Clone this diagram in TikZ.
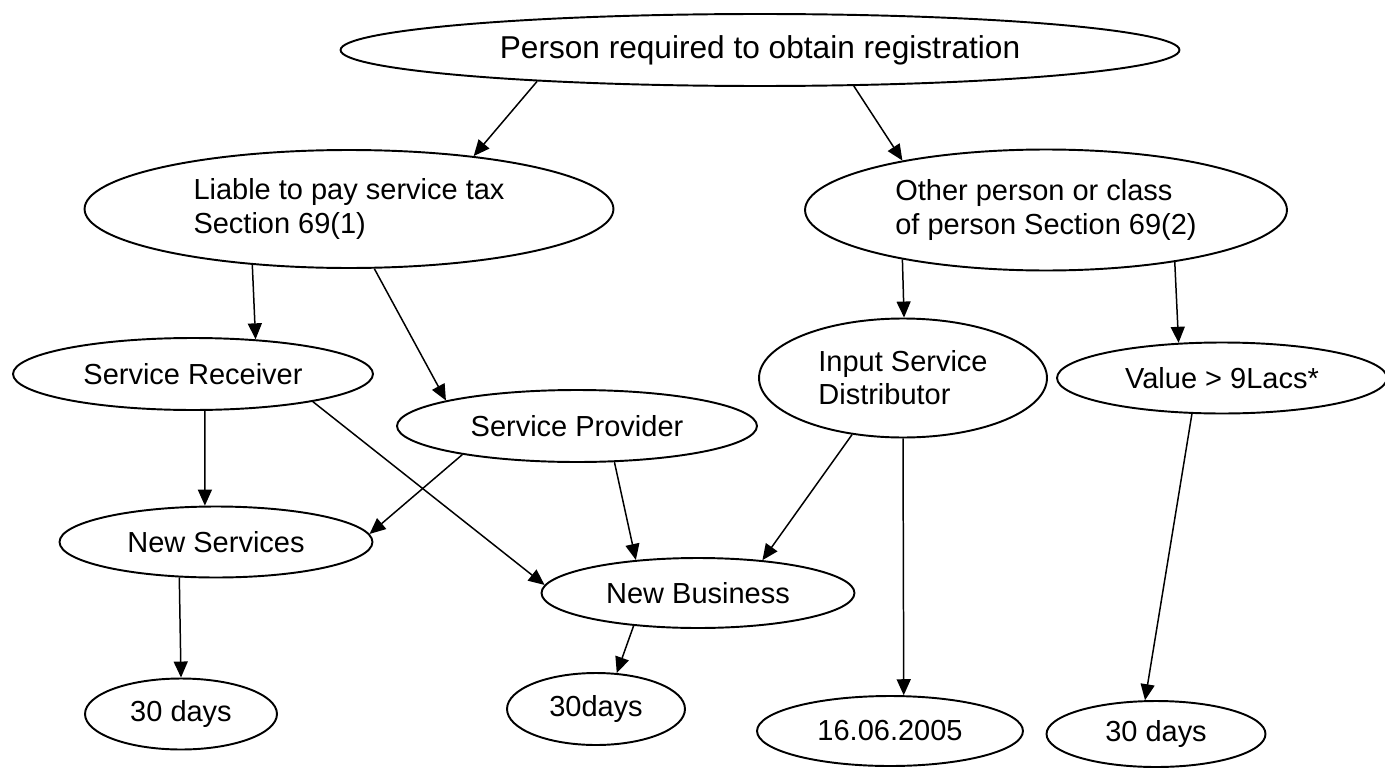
\documentclass[tikz,border=0pt]{standalone}
\usepackage{fontspec}
\setmainfont{Liberation Sans}
\usetikzlibrary{shapes.geometric, arrows.meta}

\tikzset{
  blob/.style={ellipse, draw, line width=1.1pt, inner sep=0pt, align=left,
    font=\fontsize{16.5}{18.8}\selectfont},
  link/.style={-{Triangle[length=3.2mm, width=2.8mm]}, line width=0.85pt}
}

\begin{document}
\begin{tikzpicture}[x=0.02cm, y=-0.02cm]
\useasboundingbox (0,0) rectangle (1385,767);

\node[blob, minimum width=16.78cm, minimum height=1.44cm, font=\fontsize{18}{21}\selectfont] (top) at (760,50) {Person required to obtain registration};

\node[blob, minimum width=10.58cm, minimum height=2.36cm] (liable) at (349,209) {Liable to pay service tax\\Section 69(1)};
\node[blob, minimum width=9.64cm, minimum height=2.42cm] (other) at (1046,210) {Other person or class\\of person Section 69(2)};

\node[blob, minimum width=7.2cm, minimum height=1.44cm] (receiver) at (193,374) {Service Receiver};
\node[blob, minimum width=7.2cm, minimum height=1.44cm] (provider) at (577,426) {Service Provider};
\node[blob, minimum width=5.76cm, minimum height=2.38cm] (isd) at (903,378) {Input Service\\Distributor};
\node[blob, minimum width=6.6cm, minimum height=1.42cm] (value) at (1222,378) {Value > 9Lacs*};

\node[blob, minimum width=6.26cm, minimum height=1.42cm] (newserv) at (216,542) {New Services};
\node[blob, minimum width=6.26cm, minimum height=1.4cm] (newbus) at (698,593) {New Business};

\node[blob, minimum width=3.84cm, minimum height=1.42cm] (daysA) at (181,714) {30 days};
\node[blob, minimum width=3.56cm, minimum height=1.44cm] (daysB) at (596,709) {30days};
\node[blob, minimum width=5.32cm, minimum height=1.4cm] (date) at (890,731) {16.06.2005};
\node[blob, minimum width=4.38cm, minimum height=1.32cm] (daysC) at (1156,734) {30 days};

% first split
\draw[link] (top.188) -- (liable.23.2);
\draw[link] (top.339.3) -- (other.161.4);

% section 69(1)
\draw[link] (liable.210.1) -- (receiver.29.1);
\draw[link] (liable.293.1) -- (provider.169.6);
\draw[link] (receiver.288.5) -- (newserv.107.3);
\draw[link] (receiver.347.7) -- (newbus.177.2);
\draw[link] (provider.194.9) -- (newserv.3);
\draw[link] (provider.316.4) -- (newbus.152.6);

% section 69(2)
\draw[link] (other.199) -- (isd.89.6);
\draw[link] (other.338.8) -- (value.141.4);
\draw[link] (isd.228.8) -- (newbus.27.8);
\draw[link] (isd.270) -- (date.69.5);
\draw[link] (value.230.4) -- (daysC.108.5);

% time limits
\draw[link] (newserv.224.7) -- (daysA.90);
\draw[link] (newbus.207.4) -- (daysB.60.3);
\end{tikzpicture}
\end{document}
